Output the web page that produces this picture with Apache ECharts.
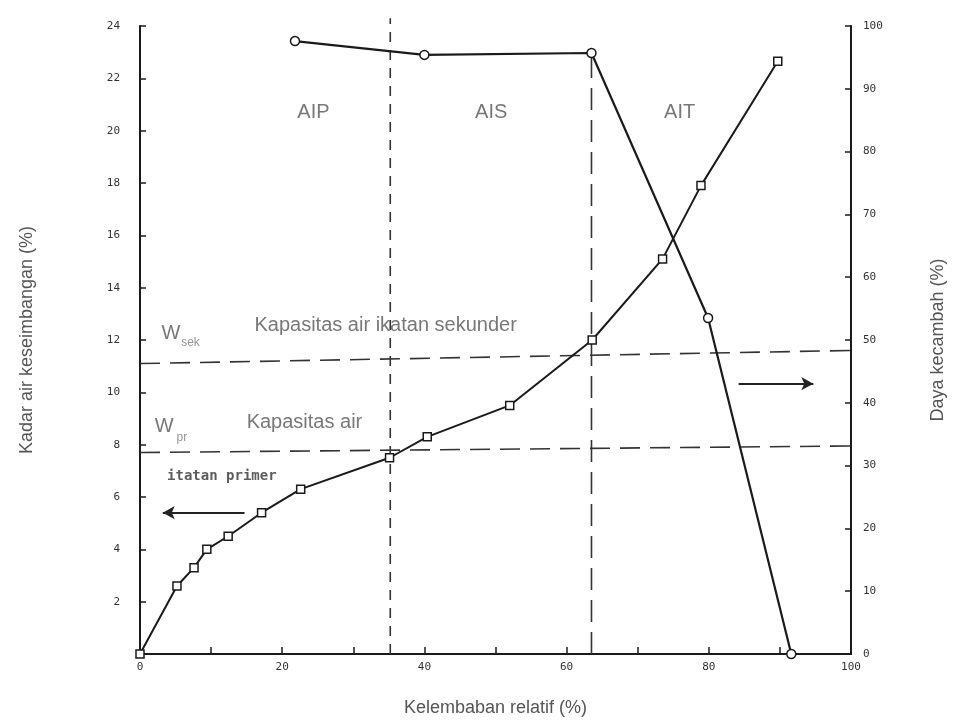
<!DOCTYPE html>
<html>
<head>
<meta charset="utf-8">
<script src="https://cdn.jsdelivr.net/npm/echarts@6/dist/echarts.min.js"></script>
<style>
  html, body { margin: 0; padding: 0; background: #fff; }
  #chart { width: 955px; height: 726px; }
</style>
</head>
<body>
<div id="chart"></div>
<script>
// kadar air keseimbangan (kiri), [kelembaban relatif, kadar air]
const isotermX = [0, 5.2, 7.6, 9.4, 12.4, 17.1, 22.6, 35.1, 40.4, 52, 63.6, 73.5, 78.9, 89.7]
const isotermY = [0, 2.6, 3.3, 4.0, 4.5, 5.4, 6.3, 7.5, 8.3, 9.5, 12.0, 15.1, 17.9, 22.65]

// daya kecambah (kanan)
const kecambahX = [21.8, 40, 63.5, 79.9, 91.6]
const kecambahY = [97.6, 95.4, 95.7, 53.5, 0]

// batas W_sek dan W_pr (garis putus-putus), nilai sumbu kiri
const wSekX = [0, 100]
const wSekY = [11.1, 11.6]
const wPrX = [0, 100]
const wPrY = [7.7, 7.95]

// batas daerah AIP / AIS / AIT
const batasAIP = 35.2
const batasAIS = 63.5

// label sumbu
const xTicks = [0, 20, 40, 60, 80, 100]
const leftTicks = [2, 4, 6, 8, 10, 12, 14, 16, 18, 20, 22, 24]
const rightTicks = [0, 10, 20, 30, 40, 50, 60, 70, 80, 90, 100]

// teks di dalam grafik
const notes = [
  { text: 'AIP', x: 24.4, y: 20.7, style: 'big' },
  { text: 'AIS', x: 49.4, y: 20.7, style: 'big' },
  { text: 'AIT', x: 75.9, y: 20.7, style: 'big' },
  { text: 'Kapasitas air ikatan sekunder', x: 16.1, y: 12.55, style: 'bigLeft' },
  { text: 'W', x: 4.35, y: 12.25, style: 'big' },
  { text: 'sek', x: 7.1, y: 11.9, style: 'sub' },
  { text: 'Kapasitas air', x: 15.0, y: 8.84, style: 'bigLeft' },
  { text: 'W', x: 3.4, y: 8.69, style: 'big' },
  { text: 'pr', x: 5.9, y: 8.27, style: 'sub' },
  { text: 'itatan primer', x: 3.8, y: 6.78, style: 'mono' }
]

// panah [dari, ke]
const arrowKiri = [[14.7, 5.4], [3.2, 5.4]]
const arrowKanan = [[84.2, 10.33], [94.7, 10.33]]

const ink = '#1a1a1a'
const textStyles = {
  big: { fontSize: 20, fontFamily: 'Liberation Sans', color: '#555', align: 'center' },
  bigLeft: { fontSize: 20, fontFamily: 'Liberation Sans', color: '#555', align: 'left' },
  sub: { fontSize: 12, fontFamily: 'Liberation Sans', color: '#777', align: 'center' },
  mono: { fontSize: 14, fontFamily: 'DejaVu Sans Mono', color: '#333', align: 'left', fontWeight: 'bold' }
}

const chart = echarts.init(document.getElementById('chart'))

function pairs(xs, ys) {
  return xs.map((x, i) => [x, ys[i]])
}

function dashLine(data, type, yAxisIndex) {
  return {
    type: 'line',
    yAxisIndex: yAxisIndex || 0,
    data: data,
    symbol: 'none',
    clip: false,
    silent: true,
    lineStyle: { color: '#333', width: 1.6, type: type },
    z: 1
  }
}

function arrowLine(a) {
  return [
    { coord: a[0], symbol: 'none' },
    { coord: a[1], symbol: 'arrow' }
  ]
}

const tickLabel = {
  fontFamily: 'DejaVu Sans Mono',
  fontSize: 11,
  color: '#333'
}

const option = {
  backgroundColor: '#fff',
  animation: false,
  grid: { left: 140, right: 102, top: 26, bottom: 72 },
  xAxis: {
    type: 'value',
    min: 0,
    max: 100,
    interval: 10,
    name: 'Kelembaban relatif (%)',
    nameLocation: 'middle',
    nameGap: 45,
    nameTextStyle: { fontFamily: 'Liberation Sans', fontSize: 18, color: '#555' },
    axisLine: { show: true, lineStyle: { color: ink, width: 2 } },
    axisTick: { show: true, inside: true, length: 7, lineStyle: { color: ink, width: 1.5 } },
    axisLabel: Object.assign({}, tickLabel, {
      margin: 8,
      formatter: v => (xTicks.indexOf(v) >= 0 ? String(v) : '')
    }),
    splitLine: { show: false }
  },
  yAxis: [{
    type: 'value',
    min: 0,
    max: 24,
    interval: 2,
    name: 'Kadar air keseimbangan (%)',
    nameLocation: 'middle',
    nameGap: 104,
    nameRotate: 90,
    nameTextStyle: { fontFamily: 'Liberation Sans', fontSize: 18, color: '#555' },
    axisLine: { show: true, lineStyle: { color: ink, width: 2 } },
    axisTick: { show: true, inside: true, length: 6, lineStyle: { color: ink, width: 1.5 } },
    axisLabel: Object.assign({}, tickLabel, {
      margin: 20,
      formatter: v => (leftTicks.indexOf(v) >= 0 ? String(v) : '')
    }),
    splitLine: { show: false }
  }, {
    type: 'value',
    position: 'right',
    min: 0,
    max: 100,
    interval: 10,
    name: 'Daya kecambah (%)',
    nameLocation: 'middle',
    nameGap: 78,
    nameRotate: 90,
    nameTextStyle: { fontFamily: 'Liberation Sans', fontSize: 18, color: '#555' },
    axisLine: { show: true, lineStyle: { color: ink, width: 2 } },
    axisTick: { show: true, inside: true, length: 6, lineStyle: { color: ink, width: 1.5 } },
    axisLabel: Object.assign({}, tickLabel, {
      margin: 12,
      formatter: v => (rightTicks.indexOf(v) >= 0 ? String(v) : '')
    }),
    splitLine: { show: false }
  }],
  series: [
    dashLine(pairs(wSekX, wSekY), [20, 10]),
    dashLine(pairs(wPrX, wPrY), [20, 10]),
    dashLine([[batasAIP, 0], [batasAIP, 24.3]], [10, 8]),
    dashLine([[batasAIS, 0], [batasAIS, kecambahY[2]]], [22, 10], 1),
    {
      name: 'Kadar air',
      type: 'line',
      yAxisIndex: 0,
      data: pairs(isotermX, isotermY),
      symbol: 'rect',
      symbolSize: 8,
      itemStyle: { color: '#fff', borderColor: ink, borderWidth: 1.5 },
      lineStyle: { color: ink, width: 2 },
      z: 4,
      markLine: {
        silent: true,
        symbolSize: [10, 12],
        label: { show: false },
        lineStyle: { color: '#222', width: 2, type: 'solid' },
        data: [arrowLine(arrowKiri), arrowLine(arrowKanan)]
      }
    },
    {
      name: 'Daya kecambah',
      type: 'line',
      yAxisIndex: 1,
      data: pairs(kecambahX, kecambahY),
      symbol: 'circle',
      symbolSize: 9,
      itemStyle: { color: '#fff', borderColor: ink, borderWidth: 1.5 },
      lineStyle: { color: ink, width: 2.2 },
      z: 4
    },
    {
      type: 'scatter',
      yAxisIndex: 0,
      symbolSize: 0,
      silent: true,
      data: notes.map(n => ({
        value: [n.x, n.y],
        label: Object.assign({
          show: true,
          position: 'inside',
          verticalAlign: 'middle',
          formatter: n.text
        }, textStyles[n.style], n.style === 'bigLeft' || n.style === 'mono' ? { position: 'right', distance: 0 } : {})
      })),
      z: 5
    }
  ]
}

chart.setOption(option)
</script>
</body>
</html>
